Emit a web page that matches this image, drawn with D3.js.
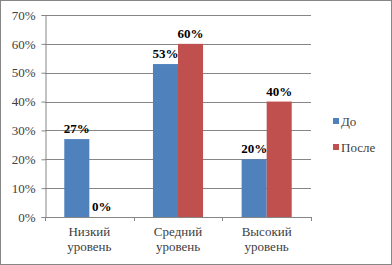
<!DOCTYPE html>
<html>
<head>
<meta charset="utf-8">
<script src="https://cdn.jsdelivr.net/npm/d3@7"></script>
<style>
  body { margin: 0; background: #fff; }
</style>
</head>
<body>
<div id="chart"></div>
<script>
const categories = ["Низкий уровень", "Средний уровень", "Высокий уровень"];
const seriesNames = ["До", "После"];
const before = [27, 53, 20];
const after = [0, 60, 40];
const yTicks = [0, 10, 20, 30, 40, 50, 60, 70];

const width = 392;
const height = 265;
const colors = ["#4F81BD", "#C0504D"];
const serif = "'Liberation Serif'";

const svg = d3.select("#chart")
  .append("svg")
  .attr("width", width)
  .attr("height", height);

// outer frame
svg.append("rect")
  .attr("x", 0.5).attr("y", 0.5)
  .attr("width", width - 1).attr("height", height - 1)
  .attr("fill", "#fff")
  .attr("stroke", "#868686");

const plot = { left: 45, right: 311, top: 15, bottom: 217 };

const x = d3.scaleBand()
  .domain(categories)
  .range([plot.left, plot.right]);

const x1 = d3.scaleBand()
  .domain(seriesNames)
  .range([0, x.bandwidth()])
  .paddingInner(0)
  .paddingOuter(0.77);

const y = d3.scaleLinear()
  .domain([0, 70])
  .range([plot.bottom, plot.top]);

// grid
svg.append("g")
  .selectAll("line")
  .data(yTicks.slice(1))
  .enter()
  .append("line")
  .attr("x1", plot.left)
  .attr("x2", plot.right)
  .attr("y1", d => Math.round(y(d)) + 0.5)
  .attr("y2", d => Math.round(y(d)) + 0.5)
  .attr("stroke", "#868686");

// y axis
const yAxis = d3.axisLeft(y)
  .tickValues(yTicks)
  .tickFormat(d => d + "%")
  .tickSize(4)
  .tickPadding(6);

const gy = svg.append("g")
  .attr("transform", `translate(${plot.left + 0.5},0)`)
  .call(yAxis);
gy.select(".domain").attr("stroke", "#868686");
gy.selectAll(".tick line").attr("stroke", "#868686");
gy.selectAll(".tick text")
  .attr("fill", "#404040")
  .style("font-family", serif)
  .style("font-size", "13px");

// bars
const data = categories.map((c, i) => ({ cat: c, vals: [before[i], after[i]] }));

const groups = svg.append("g")
  .selectAll("g")
  .data(data)
  .enter()
  .append("g")
  .attr("transform", d => `translate(${x(d.cat)},0)`);

groups.selectAll("rect")
  .data(d => d.vals.map((v, j) => ({ key: seriesNames[j], val: v, j })))
  .enter()
  .append("rect")
  .attr("x", d => x1(d.key))
  .attr("width", x1.bandwidth())
  .attr("y", d => y(d.val))
  .attr("height", d => y(0) - y(d.val))
  .attr("fill", d => colors[d.j]);

groups.selectAll("text")
  .data(d => d.vals.map((v, j) => ({ key: seriesNames[j], val: v })))
  .enter()
  .append("text")
  .attr("x", d => x1(d.key) + x1.bandwidth() / 2)
  .attr("y", d => y(d.val) - 6)
  .attr("text-anchor", "middle")
  .style("font-family", serif)
  .style("font-size", "13px")
  .style("font-weight", "bold")
  .attr("fill", "#000")
  .text(d => d.val + "%");

// x axis line
svg.append("line")
  .attr("x1", plot.left)
  .attr("x2", plot.right)
  .attr("y1", plot.bottom + 0.5)
  .attr("y2", plot.bottom + 0.5)
  .attr("stroke", "#868686");

// category ticks at band boundaries
const bounds = categories.map(c => x(c)).concat([plot.right]);
svg.append("g")
  .selectAll("line")
  .data(bounds)
  .enter()
  .append("line")
  .attr("x1", d => Math.round(d) + 0.5)
  .attr("x2", d => Math.round(d) + 0.5)
  .attr("y1", plot.bottom)
  .attr("y2", plot.bottom + 4)
  .attr("stroke", "#868686");

// category labels, two lines
categories.forEach(c => {
  const cx = x(c) + x.bandwidth() / 2;
  const t = svg.append("text")
    .attr("x", cx)
    .attr("y", 236)
    .attr("text-anchor", "middle")
    .attr("fill", "#404040")
    .style("font-family", serif)
    .style("font-size", "13px");
  c.split(" ").forEach((w, i) => {
    t.append("tspan")
      .attr("x", cx)
      .attr("dy", i === 0 ? 0 : 15)
      .text(w);
  });
});

// legend
const legend = svg.append("g").attr("transform", "translate(333,118)");
seriesNames.forEach((s, i) => {
  const g = legend.append("g").attr("transform", `translate(0,${i * 26})`);
  g.append("rect")
    .attr("width", 6)
    .attr("height", 6)
    .attr("fill", colors[i]);
  g.append("text")
    .attr("x", 8)
    .attr("y", 8)
    .attr("fill", "#404040")
    .style("font-family", serif)
    .style("font-size", "13px")
    .text(s);
});
</script>
</body>
</html>
